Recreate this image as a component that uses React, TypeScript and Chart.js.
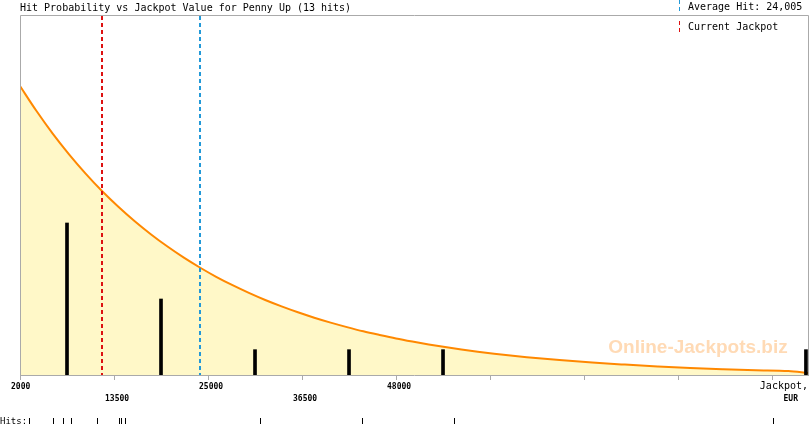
import React, { useEffect, useRef } from 'react';
import { Chart, registerables } from 'chart.js';

Chart.register(...registerables);

const TITLE = 'Hit Probability vs Jackpot Value for Penny Up (13 hits)';
const AVERAGE_LABEL = 'Average Hit: 24,005';
const CURRENT_LABEL = 'Current Jackpot';
const WATERMARK = 'Online-Jackpots.biz';

const X_MIN = 2000;
const X_MAX = 98400;
const tickValues = [2000, 13500, 25000, 36500, 48000, 59500, 71000, 82500, 94000];
const tickLabels = ['2000', '13500', '25000', '36500', '48000', '', '', '', ''];
const axisTitle = ['Jackpot,', 'EUR'];

// histogram of hits per jackpot bin
const binCenters = [7750, 19250, 30750, 42250, 53750, 98150];
const binHits = [6, 3, 1, 1, 1, 1];
const HITS_AXIS_MAX = 14.21;

// probability curve (relative scale 0..360)
const curveX = [
  2000, 4000, 6000, 8000, 10000, 12000, 14000, 16000, 18000, 20000,
  22000, 24000, 26000, 28000, 30000, 32000, 34000, 36000, 38000, 40000,
  42000, 44000, 46000, 48000, 50000, 52000, 54000, 56000, 58000, 60000,
  64000, 68000, 72000, 76000, 80000, 84000, 88000, 92000, 96000, 98400,
];
const curveY = [
  289.0, 264.2, 241.4, 220.7, 201.7, 184.3, 168.5, 154.0, 140.8, 128.7,
  117.6, 107.5, 98.2, 89.8, 82.1, 75.0, 68.6, 62.7, 57.3, 52.4,
  47.9, 43.7, 40.0, 36.5, 33.4, 30.5, 27.9, 25.5, 23.3, 21.3,
  17.8, 14.9, 12.4, 10.4, 8.6, 7.0, 5.8, 4.8, 4.0, 2.0,
];
const CURVE_AXIS_MAX = 360;

// individual hits
const hitValues = [3050, 3150, 6040, 7260, 8240, 11420, 14060, 14300, 14800, 31300, 43800, 55100, 94100];

const averageHit = 24005;
const currentJackpot = 12030;

const MONO = '"DejaVu Sans Mono", monospace';

const decorPlugin = {
  id: 'decor',
  beforeDatasetsDraw(chart: any) {
    const { ctx, chartArea } = chart;
    ctx.save();
    ctx.font = 'bold 19px "Liberation Sans", Arial, sans-serif';
    ctx.fillStyle = '#ffdab5';
    ctx.textAlign = 'center';
    ctx.textBaseline = 'middle';
    ctx.fillText(WATERMARK, chartArea.right - 110, chartArea.bottom - 27);
    ctx.restore();
  },
  afterDatasetsDraw(chart: any) {
    const { ctx, chartArea, scales } = chart;
    const x = scales.x;
    ctx.save();
    const vline = (v: number, color: string) => {
      const px = Math.round(x.getPixelForValue(v));
      ctx.strokeStyle = color;
      ctx.lineWidth = 2;
      ctx.setLineDash([4, 3]);
      ctx.beginPath();
      ctx.moveTo(px, chartArea.top + 1);
      ctx.lineTo(px, chartArea.bottom);
      ctx.stroke();
    };
    vline(currentJackpot, '#dd1111');
    vline(averageHit, '#2299d8');
    ctx.setLineDash([]);
    ctx.strokeStyle = '#aaaaaa';
    ctx.lineWidth = 1;
    ctx.beginPath();
    ctx.moveTo(chartArea.left + 0.5, chartArea.bottom);
    ctx.lineTo(chartArea.left + 0.5, chartArea.top + 0.5);
    ctx.lineTo(chartArea.right + 0.5, chartArea.top + 0.5);
    ctx.lineTo(chartArea.right + 0.5, chartArea.bottom);
    ctx.stroke();
    ctx.restore();
  },
  afterDraw(chart: any) {
    const { ctx, chartArea, scales } = chart;
    const x = scales.x;
    ctx.save();
    ctx.fillStyle = '#000';
    ctx.textBaseline = 'alphabetic';
    // title
    ctx.font = '10px ' + MONO;
    ctx.textAlign = 'left';
    ctx.fillText(TITLE, chartArea.left, 11);
    // legend
    ctx.fillText(AVERAGE_LABEL, 688, 10);
    ctx.fillText(CURRENT_LABEL, 688, 30);
    ctx.lineWidth = 1;
    ctx.setLineDash([4, 3]);
    ctx.strokeStyle = '#2299d8';
    ctx.beginPath();
    ctx.moveTo(679.5, 0);
    ctx.lineTo(679.5, 11);
    ctx.stroke();
    ctx.strokeStyle = '#dd1111';
    ctx.beginPath();
    ctx.moveTo(679.5, 21);
    ctx.lineTo(679.5, 32);
    ctx.stroke();
    ctx.setLineDash([]);
    // tick labels, alternating rows
    ctx.font = 'bold 8px ' + MONO;
    ctx.textAlign = 'left';
    tickValues.forEach((v, i) => {
      const lbl = tickLabels[i];
      if (!lbl) return;
      const px = x.getPixelForValue(v);
      ctx.fillText(lbl, px - 9, i % 2 === 0 ? 389 : 401);
    });
    // axis title
    ctx.font = '10px ' + MONO;
    ctx.textAlign = 'right';
    ctx.fillText(axisTitle[0], chartArea.right, 389);
    ctx.font = 'bold 8px ' + MONO;
    ctx.fillText(axisTitle[1], chartArea.right - 10, 401);
    // hits row
    ctx.font = '9px ' + MONO;
    ctx.textAlign = 'left';
    ctx.fillText('Hits:', 0, 424);
    hitValues.forEach((h) => {
      const px = Math.round(x.getPixelForValue(h));
      ctx.fillRect(px, 418, 1, 6);
    });
    ctx.restore();
  },
};

export default function App() {
  const ref = useRef<HTMLCanvasElement | null>(null);
  useEffect(() => {
    document.body.style.margin = '0';
    const canvas = ref.current;
    if (!canvas) return;
    const chart = new Chart(canvas, {
      type: 'line',
      data: {
        datasets: [
          {
            type: 'bar',
            data: binCenters.map((c, i) => ({ x: c, y: binHits[i] })),
            yAxisID: 'yh',
            backgroundColor: '#000000',
            borderWidth: 0,
            barThickness: 3,
            order: 0,
          } as any,
          {
            type: 'line',
            data: curveX.map((c, i) => ({ x: c, y: curveY[i] })),
            yAxisID: 'yc',
            borderColor: '#ff8800',
            borderWidth: 2,
            backgroundColor: '#fff8c8',
            fill: 'origin',
            pointRadius: 0,
            cubicInterpolationMode: 'monotone',
            order: 1,
          } as any,
        ],
      },
      options: {
        responsive: false,
        animation: false,
        events: [],
        layout: { padding: { left: 20, right: 2, top: 15, bottom: 0 } },
        plugins: { legend: { display: false }, tooltip: { enabled: false }, title: { display: false } },
        scales: {
          x: {
            type: 'linear',
            min: X_MIN,
            max: X_MAX,
            offset: false,
            afterBuildTicks: (s: any) => {
              s.ticks = tickValues.map((v) => ({ value: v }));
            },
            afterFit: (s: any) => {
              s.height = 50;
            },
            ticks: { display: false },
            grid: { offset: false, drawOnChartArea: false, drawTicks: true, tickLength: 5, color: '#aaaaaa' },
            border: { color: '#aaaaaa' },
          },
          yh: { display: false, min: 0, max: HITS_AXIS_MAX },
          yc: { display: false, min: 0, max: CURVE_AXIS_MAX },
        },
      } as any,
      plugins: [decorPlugin],
    });
    return () => chart.destroy();
  }, []);
  return <canvas ref={ref} width={810} height={425} style={{ display: 'block', width: 810, height: 425 }} />;
}
